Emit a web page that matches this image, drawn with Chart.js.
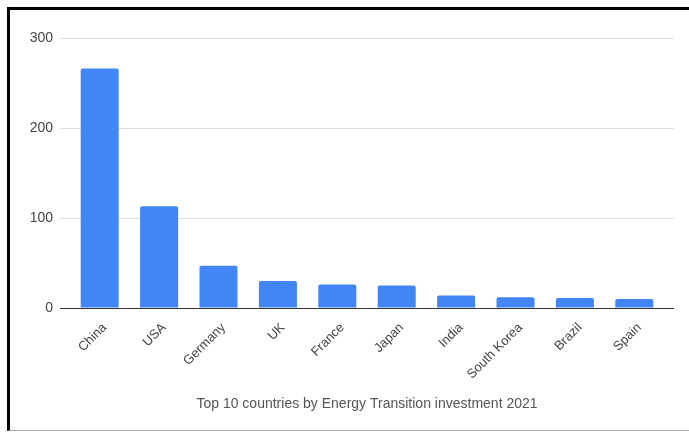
<!DOCTYPE html>
<html>
<head>
<meta charset="utf-8">
<script src="https://cdn.jsdelivr.net/npm/chart.js@4.4.0/dist/chart.umd.min.js"></script>
<style>
  html, body { margin: 0; padding: 0; background: #fff; }
  #wrap { position: relative; width: 689px; height: 433px; overflow: hidden; }
  #frame { position: absolute; left: 7px; top: 7px; width: 700px; height: 420px;
           border-top: 3px solid #000; border-left: 3px solid #000; border-bottom: 1px solid #aaa; }
  canvas { position: absolute; left: 0; top: 0; }
</style>
</head>
<body>
<div id="wrap">
  <div id="frame"></div>
  <canvas id="c" width="689" height="433"></canvas>
</div>
<script>
const categories = ["China", "USA", "Germany", "UK", "France", "Japan", "India", "South Korea", "Brazil", "Spain"];
const investment = [266, 113, 47, 30, 26, 25, 14, 12, 11, 10];
const yTicks = [0, 100, 200, 300];
const chartTitle = "Top 10 countries by Energy Transition investment 2021";

const FONT = 'Liberation Sans, Arial, sans-serif';

const gridExtend = {
  id: 'gridExtend',
  beforeDatasetsDraw(chart) {
    const ctx = chart.ctx, y = chart.scales.y, area = chart.chartArea;
    ctx.save();
    ctx.lineWidth = 1;
    yTicks.forEach(v => {
      const py = Math.round(y.getPixelForValue(v)) + 0.5;
      ctx.strokeStyle = v === 0 ? '#333' : '#dedede';
      ctx.beginPath();
      ctx.moveTo(area.right, py);
      ctx.lineTo(area.right + 10, py);
      ctx.stroke();
    });
    ctx.restore();
  }
};

new Chart(document.getElementById('c'), {
  type: 'bar',
  data: {
    labels: categories,
    datasets: [{
      data: investment,
      backgroundColor: '#4285F4',
      borderColor: '#4285F4',
      borderWidth: 0,
      borderRadius: 2,
      borderSkipped: 'bottom',
      categoryPercentage: 0.64,
      barPercentage: 1.0
    }]
  },
  options: {
    responsive: false,
    animation: false,
    devicePixelRatio: 1,
    layout: { padding: { left: 10, right: 25, top: 38, bottom: 0 } },
    plugins: {
      legend: { display: false },
      tooltip: { enabled: false }
    },
    scales: {
      x: {
        grid: { display: false },
        border: { display: true, color: '#333', width: 1 },
        ticks: {
          color: '#444',
          font: { family: FONT, size: 13 },
          minRotation: 45, maxRotation: 45, autoSkip: false, padding: 4,
          labelOffset: 5
        },
        title: {
          display: true,
          text: chartTitle,
          color: '#555',
          font: { family: FONT, size: 14, weight: 'normal' },
          padding: { top: 0, bottom: 20 }
        },
        afterFit(scale) { scale.height = 125; }
      },
      y: {
        min: 0, max: 300,
        afterBuildTicks(scale) { scale.ticks = yTicks.map(v => ({ value: v })); },
        grid: {
          color: ctx => ctx.tick && ctx.tick.value === 0 ? '#333' : '#dedede',
          drawTicks: true, tickLength: 10,
          tickColor: ctx => ctx.tick && ctx.tick.value === 0 ? '#333' : '#dedede'
        },
        border: { display: false },
        ticks: {
          color: '#444',
          font: { family: FONT, size: 14 },
          padding: 7
        },
        afterFit(scale) { scale.width = 60; }
      }
    }
  },
  plugins: [gridExtend]
});
</script>
</body>
</html>
